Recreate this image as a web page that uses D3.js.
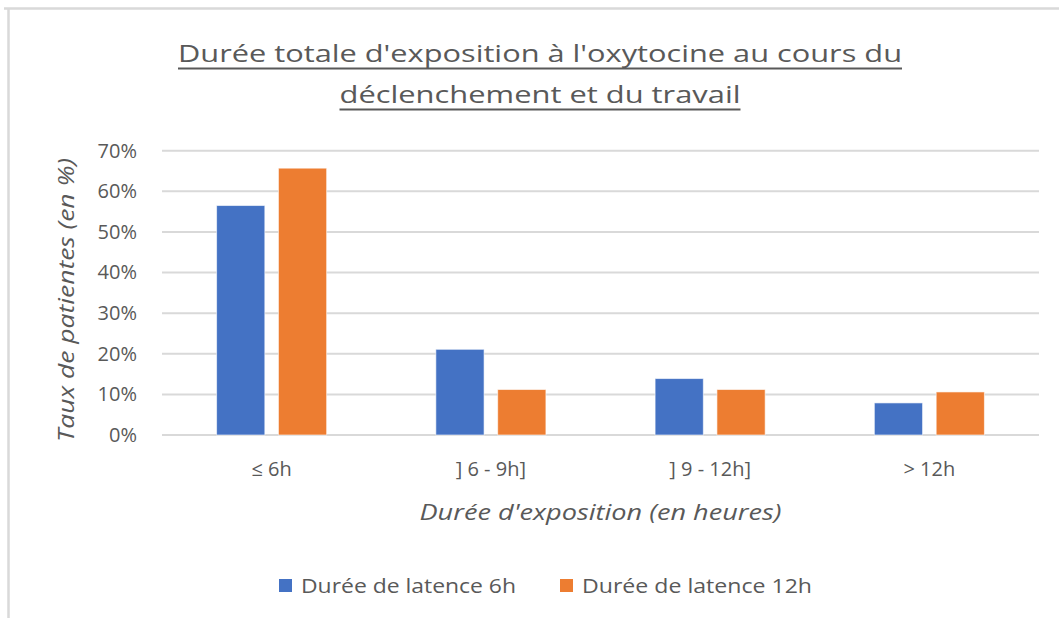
<!DOCTYPE html>
<html>
<head>
<meta charset="utf-8">
<script src="https://cdn.jsdelivr.net/npm/d3@7"></script>
<style>
  body { margin: 0; background: #fff; }
  svg { display: block; font-family: "Open Sans", sans-serif; }
</style>
</head>
<body>
<div id="chart-area"></div>
<script>

// Data

let categories = ["≤ 6h", "] 6 - 9h]", "] 9 - 12h]", "> 12h"];
let seriesNames = ["Durée de latence 6h", "Durée de latence 12h"];
let latence6h  = [0.565, 0.211, 0.139, 0.079];
let latence12h = [0.657, 0.112, 0.112, 0.106];
let yTicks = [0, 0.1, 0.2, 0.3, 0.4, 0.5, 0.6, 0.7];
let titleLines = ["Durée totale d'exposition à l'oxytocine au cours du", "déclenchement et du travail"];

let colors = ["#4472C4", "#ED7D31"];
let textColor = "#595959";

// SVG drawing area

let W = 1059, H = 618;
let margin = {top: 150.7, right: 20, bottom: 183, left: 162};
let width = 1039 - margin.left,
    height = 435 - margin.top;

let root = d3.select("#chart-area").append("svg")
    .attr("width", W)
    .attr("height", H);

// frame (only top and left visible in the screenshot)
root.append("line")
    .attr("x1", 4).attr("x2", W).attr("y1", 8.5).attr("y2", 8.5)
    .attr("stroke", "#d9d9d9").attr("stroke-width", 2.5);
root.append("line")
    .attr("x1", 8.5).attr("x2", 8.5).attr("y1", 8).attr("y2", H)
    .attr("stroke", "#d9d9d9").attr("stroke-width", 2.5);

let svg = root.append("g")
    .attr("transform", "translate(" + margin.left + "," + margin.top + ")");

// Scales

let y = d3.scaleLinear()
    .domain([0, 0.7])
    .range([height, 0]);

let x = d3.scaleBand()
    .domain(categories)
    .range([0, width]);

let groupW = x.bandwidth() * 0.502;
let x1 = d3.scaleBand()
    .domain(seriesNames)
    .range([0, groupW])
    .paddingInner(0.22);

// Gridlines

svg.append("g")
    .selectAll("line")
    .data(yTicks)
    .enter().append("line")
    .attr("x1", 0).attr("x2", width)
    .attr("y1", d => y(d)).attr("y2", d => y(d))
    .attr("stroke", "#d9d9d9")
    .attr("stroke-width", 2);

// Axes

let yAxis = d3.axisLeft(y)
    .tickValues(yTicks)
    .tickFormat(d3.format(".0%"))
    .tickSize(0)
    .tickPadding(25);

let yAxisG = svg.append("g")
    .attr("class", "y-axis axis")
    .call(yAxis)
    .attr("font-family", null)
    .attr("font-size", null);
yAxisG.select(".domain").remove();
yAxisG.selectAll("text")
    .attr("fill", textColor)
    .style("font-size", "20px");

let xAxis = d3.axisBottom(x)
    .tickSize(0)
    .tickPadding(27);

let xAxisG = svg.append("g")
    .attr("class", "x-axis axis")
    .attr("transform", "translate(0," + height + ")")
    .call(xAxis)
    .attr("font-family", null)
    .attr("font-size", null);
xAxisG.select(".domain").remove();
xAxisG.selectAll("text")
    .attr("fill", textColor)
    .style("font-size", "20px");

// Bars

let rows = categories.map((c, i) => ({cat: c, vals: [latence6h[i], latence12h[i]]}));

let groups = svg.append("g")
    .selectAll("g")
    .data(rows)
    .enter().append("g")
    .attr("transform", d => "translate(" + (x(d.cat) + (x.bandwidth() - groupW) / 2) + ",0)");

groups.selectAll("rect")
    .data(d => d.vals.map((v, j) => ({name: seriesNames[j], v: v, j: j})))
    .enter().append("rect")
    .attr("class", "bar")
    .attr("x", d => x1(d.name))
    .attr("width", x1.bandwidth())
    .attr("y", d => y(d.v))
    .attr("height", d => height - y(d.v))
    .attr("fill", d => colors[d.j])
    .attr("stroke", "#ffffff")
    .attr("stroke-opacity", 0.6)
    .attr("stroke-width", 1);

// Title (underlined)

let titleY = [62, 103];
let titleW = [724, 401];
titleLines.forEach((t, i) => {
    let cx = W / 2 + 10.5;
    root.append("text")
        .attr("x", cx)
        .attr("y", titleY[i])
        .attr("text-anchor", "middle")
        .attr("textLength", titleW[i])
        .attr("lengthAdjust", "spacingAndGlyphs")
        .attr("fill", textColor)
        .style("font-size", "23px")
        .text(t);
    root.append("line")
        .attr("x1", cx - titleW[i] / 2).attr("x2", cx + titleW[i] / 2)
        .attr("y1", titleY[i] + 6.5).attr("y2", titleY[i] + 6.5)
        .attr("stroke", textColor)
        .attr("stroke-width", 2);
});

// Axis titles

root.append("text")
    .attr("transform", "translate(74," + 300 + ") rotate(-90)")
    .attr("text-anchor", "middle")
    .attr("textLength", 284)
    .attr("lengthAdjust", "spacingAndGlyphs")
    .attr("fill", textColor)
    .style("font-size", "21px")
    .style("font-style", "italic")
    .text("Taux de patientes (en %)");

root.append("text")
    .attr("x", margin.left + width / 2)
    .attr("y", 520)
    .attr("text-anchor", "middle")
    .attr("textLength", 362)
    .attr("lengthAdjust", "spacingAndGlyphs")
    .attr("fill", textColor)
    .style("font-size", "21px")
    .style("font-style", "italic")
    .text("Durée d'exposition (en heures)");

// Legend

let legendX = [279, 560];
let legendW = [215, 230];
let legend = root.append("g")
    .selectAll("g")
    .data(seriesNames)
    .enter().append("g")
    .attr("transform", (d, i) => "translate(" + legendX[i] + ",579)");

legend.append("rect")
    .attr("width", 13).attr("height", 13)
    .attr("fill", (d, i) => colors[i]);

legend.append("text")
    .attr("x", 22)
    .attr("y", 13.5)
    .attr("textLength", (d, i) => legendW[i])
    .attr("lengthAdjust", "spacingAndGlyphs")
    .attr("fill", textColor)
    .style("font-size", "20px")
    .text(d => d);

</script>
</body>
</html>
